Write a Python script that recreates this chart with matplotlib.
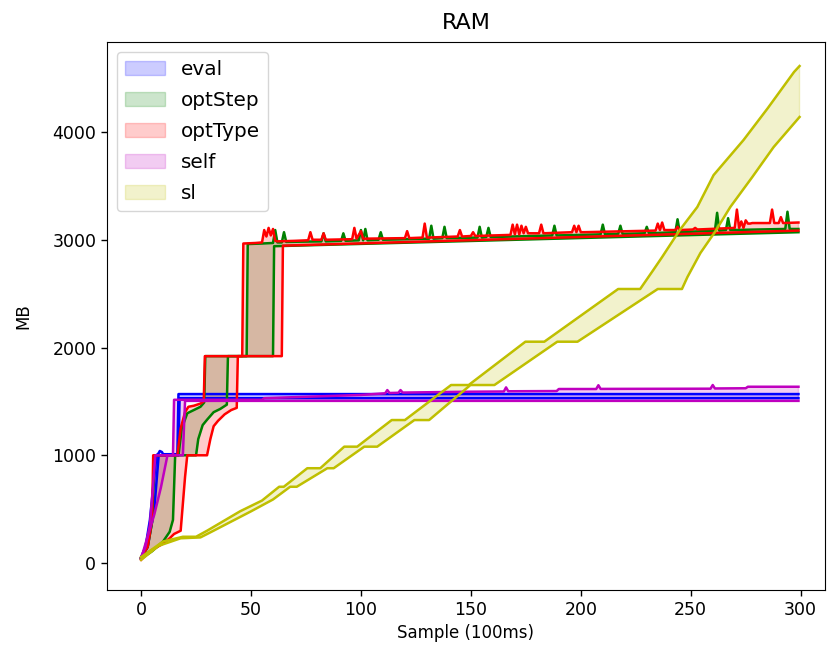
import numpy as np
import matplotlib
matplotlib.use("Agg")
from matplotlib import pyplot as plt

# eval
eval_lo_x = [0, 3, 6, 8, 17, 17.5, 299]
eval_lo_y = [40, 150, 500, 1000, 1000, 1530, 1530]
eval_hi_x = [0, 2, 4, 7, 8, 8.5, 9.5, 10, 16.5, 17, 299]
eval_hi_y = [55, 150, 400, 1000, 1020, 1040, 1030, 1010, 1010, 1568, 1568]

# optStep
step_lo_x = [0, 5, 10, 13, 14.5, 15.5, 25, 26, 28, 30, 33, 36, 39, 39.5, 60, 60.5, 299]
step_lo_y = [40, 110, 200, 290, 400, 1000, 1000, 1150, 1280, 1330, 1400, 1430, 1470, 1920, 1920, 2940, 3070]
step_hi_x = [0, 3, 5, 6, 17, 18.5, 21, 24, 27, 28.7, 29.2, 48, 48.5, 55, 60, 61, 62, 64, 65, 66,
             82, 83, 84, 91, 92, 93, 99, 100, 101, 102, 103, 108, 109, 110, 131, 132, 133, 137, 138, 139,
             153, 154, 155, 157, 158, 159, 187, 188, 189, 209, 210, 211, 217, 218, 219, 229, 230, 231,
             243, 244, 245, 261, 262, 263, 266, 267, 268, 293, 294, 295, 299]
step_hi_y = [50, 150, 380, 1000, 1000, 1250, 1390, 1420, 1450, 1490, 1920, 1920, 2960, 2965, 2970, 3090, 2975, 2975, 3070, 2980,
             2985, 3060, 2985, 2990, 3060, 2990, 2995, 3090, 2995, 3100, 2995, 3000, 3070, 3000, 3010, 3130, 3010, 3015, 3120, 3015,
             3020, 3120, 3020, 3025, 3110, 3025, 3040, 3130, 3040, 3050, 3140, 3050, 3055, 3130, 3055, 3060, 3120, 3060,
             3070, 3190, 3070, 3085, 3250, 3085, 3090, 3200, 3090, 3100, 3260, 3100, 3100]

# optType
type_lo_x = [0, 4, 10, 13, 15, 18, 20, 21, 30, 31.5, 33, 35, 38, 41, 43.5, 44, 64, 64.5, 299]
type_lo_y = [30, 110, 180, 230, 270, 300, 800, 1000, 1000, 1150, 1270, 1320, 1380, 1420, 1440, 1920, 1920, 2945, 3085]
type_hi_x = [0, 3, 5, 5.5, 16.5, 18, 20, 21.5, 24, 27, 28.5, 29, 46, 46.5, 52, 55, 56, 57, 58, 59, 60, 61, 62,
             70, 76, 77, 78, 82, 83, 84, 96, 97, 98, 100, 101, 102, 120, 121, 122, 128, 129, 130,
             144, 145, 146, 150, 151, 152, 168, 169, 170, 171, 172, 173, 174, 175, 176, 181, 182, 183,
             196, 197, 198, 199, 200, 201, 234, 235, 236, 237, 238, 239, 243, 244, 245, 251, 252, 253,
             270, 271, 272, 273, 274, 275, 276, 277, 278, 286, 287, 288, 290, 291, 292, 299]
type_hi_y = [50, 150, 400, 1000, 1000, 1250, 1400, 1450, 1460, 1480, 1500, 1920, 1920, 2965, 2970, 2975, 3090, 3030, 3110, 3040, 3100, 2990, 2985,
             2990, 2995, 3070, 3000, 3000, 3060, 3000, 3005, 3110, 3010, 3080, 3010, 3010, 3015, 3080, 3015, 3020, 3150, 3020,
             3030, 3090, 3030, 3035, 3070, 3035, 3045, 3140, 3050, 3140, 3050, 3130, 3060, 3120, 3060, 3060, 3140, 3060,
             3070, 3130, 3070, 3130, 3070, 3070, 3085, 3150, 3090, 3160, 3090, 3090, 3090, 3120, 3090, 3095, 3110, 3095,
             3110, 3280, 3110, 3170, 3110, 3180, 3150, 3150, 3155, 3155, 3280, 3155, 3155, 3210, 3155, 3160]

# self
self_lo_x = [0, 2, 6, 9, 12, 19, 20, 299]
self_lo_y = [40, 180, 450, 700, 1000, 1000, 1505, 1505]
self_hi_x = [0, 2, 4, 6.5, 14.5, 15, 55, 56, 100, 111, 112, 113, 117, 118, 119, 150, 165, 166, 167,
             189, 190, 207, 208, 209, 259, 260, 261, 275, 276, 299]
self_hi_y = [50, 150, 350, 1000, 1000, 1515, 1515, 1530, 1560, 1575, 1605, 1578, 1580, 1605, 1582, 1590, 1592, 1630, 1594,
             1596, 1615, 1615, 1650, 1616, 1618, 1652, 1620, 1622, 1636, 1636]

# sl
sl_lo_x = [0, 8, 18, 27, 32, 50, 60, 67.8, 70.8, 84.7, 87.6, 101.5, 107.4, 124.3, 131, 149.8, 160.7,
           189.3, 198.5, 235, 246, 248.5, 254.4, 261, 268, 278, 287.7, 299.5]
sl_lo_y = [30, 160, 230, 238, 290, 480, 590, 708, 708, 880, 880, 1080, 1080, 1327, 1327, 1652, 1652,
           2054, 2054, 2543, 2543, 2654, 2877, 3072, 3304, 3582, 3860, 4139]
sl_hi_x = [0, 10, 19, 25, 30, 45, 55, 62.8, 64.9, 75.6, 81.5, 92.4, 98.3, 114, 120, 141, 149,
           174.8, 183.4, 217, 227, 233, 237, 245, 253, 260.4, 274, 285, 297, 299.5]
sl_hi_y = [55, 200, 244, 244, 300, 480, 580, 708, 708, 880, 880, 1080, 1080, 1327, 1327, 1652, 1652,
           2054, 2054, 2543, 2543, 2720, 2840, 3090, 3304, 3600, 3925, 4220, 4557, 4612]

labels = ['eval', 'optStep', 'optType', 'self', 'sl']
colors = ['b', 'g', 'r', 'm', 'y']
series = [
    (eval_lo_x, eval_lo_y, eval_hi_x, eval_hi_y),
    (step_lo_x, step_lo_y, step_hi_x, step_hi_y),
    (type_lo_x, type_lo_y, type_hi_x, type_hi_y),
    (self_lo_x, self_lo_y, self_hi_x, self_hi_y),
    (sl_lo_x, sl_lo_y, sl_hi_x, sl_hi_y),
]

plt.rcParams['font.size'] = 12
fig = plt.figure(figsize=(8.27, 6.51), dpi=100)
ax = fig.add_axes([0.1294, 0.0937, 0.868, 0.8418])

handles = []
for (lx, ly, hx, hy), c, lab in zip(series, colors, labels):
    ax.plot(lx, ly, color=c, lw=1.8)
    ax.plot(hx, hy, color=c, lw=1.8)
    # band between the two lines
    px = np.concatenate([hx, lx[::-1]])
    py = np.concatenate([hy, ly[::-1]])
    poly = ax.fill(px, py, color=c, alpha=0.2, label=lab)[0]
    handles.append(poly)

ax.set_xlim(-15.5, 311)
ax.set_ylim(-250, 4835)
ax.set_xticks([0, 50, 100, 150, 200, 250, 300])
ax.set_yticks([0, 1000, 2000, 3000, 4000])
ax.tick_params(length=4.2, width=1, labelsize=12.5)
ax.set_title('RAM', fontsize=16, pad=9)
ax.set_xlabel('Sample (100ms)')
ax.set_ylabel('MB', labelpad=14)
ax.legend(handles=handles, loc='upper left', fontsize=14.4, labelspacing=0.6)

fig.savefig('out.png', dpi=100)
